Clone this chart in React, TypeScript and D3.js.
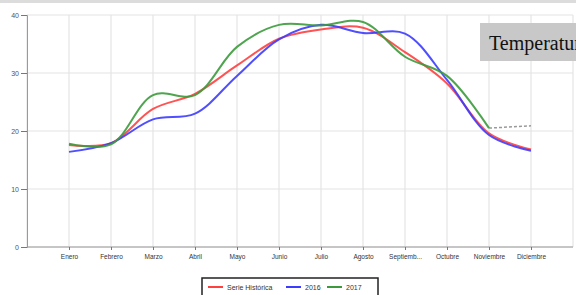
import React, { useEffect, useRef } from 'react'
import * as d3 from 'd3'

const months = ['Enero', 'Febrero', 'Marzo', 'Abril', 'Mayo', 'Junio', 'Julio', 'Agosto', 'Septiembre', 'Octubre', 'Noviembre', 'Diciembre']
const historica = [17.6, 17.9, 23.8, 26.4, 31.3, 35.9, 37.5, 37.8, 33.6, 28.2, 19.6, 16.8]
const serie2016 = [16.4, 17.9, 22.0, 23.0, 29.5, 35.8, 38.3, 36.9, 36.8, 28.8, 19.3, 16.6]
const serie2017 = [17.8, 17.7, 26.2, 26.2, 34.5, 38.3, 38.2, 38.8, 32.8, 29.5, 20.5, null]
const pronostico = [null, null, null, null, null, null, null, null, null, null, 20.5, 20.9]
const yTicks = [0, 10, 20, 30, 40]

const legendItems = [
  { name: 'Serie Histórica', color: '#ff4040' },
  { name: '2016', color: '#3c3cff' },
  { name: '2017', color: '#3c9a3c' }
]

const width = 576
const height = 295

const App: React.FC = () => {
  const svgRef = useRef<SVGSVGElement>(null)

  useEffect(() => {
    if (!svgRef.current) return
    const svg = d3.select(svgRef.current)
    svg.selectAll('*').remove()

    const margin = { top: 15, right: 3, bottom: 48, left: 27 }

    const xScale = d3
      .scalePoint<string>()
      .domain(months)
      .range([margin.left, width - margin.right])
      .padding(1)

    const yScale = d3
      .scaleLinear()
      .domain([0, 40])
      .range([height - margin.bottom, margin.top])

    // top frame line
    svg.append('rect').attr('x', 0).attr('y', 0).attr('width', width).attr('height', 3).attr('fill', '#dcdcdc')

    // grid
    const step = xScale.step()
    const vLines = [margin.left, ...months.map((m) => xScale(m) ?? 0), (xScale(months[11]) ?? 0) + step]
    svg
      .selectAll('.vgrid')
      .data(vLines)
      .enter()
      .append('line')
      .attr('x1', (d) => d)
      .attr('x2', (d) => d)
      .attr('y1', yScale(40))
      .attr('y2', yScale(0))
      .attr('stroke', '#e4e4e4')
      .attr('stroke-width', 1.2)

    svg
      .selectAll('.hgrid')
      .data(yTicks)
      .enter()
      .append('line')
      .attr('x1', margin.left)
      .attr('x2', vLines[vLines.length - 1])
      .attr('y1', (d) => yScale(d))
      .attr('y2', (d) => yScale(d))
      .attr('stroke', '#e4e4e4')
      .attr('stroke-width', 1.2)

    // y axis
    const yAxis = d3.axisLeft(yScale).tickValues(yTicks).tickSize(6).tickPadding(2)
    const gy = svg.append('g').attr('transform', `translate(${margin.left}, 0)`).call(yAxis)
    gy.select('.domain').attr('stroke', '#9a9a9a')
    gy.selectAll('.tick line').attr('stroke', '#777')
    gy.selectAll('.tick text')
      .attr('fill', '#555')
      .style('font-family', 'Liberation Sans, Arial, sans-serif')
      .style('font-size', '7px')

    // x axis
    const xAxis = d3
      .axisBottom(xScale)
      .tickSize(3)
      .tickPadding(4)
      .tickFormat((d) => (d.length > 9 ? d.slice(0, 8) + '...' : d))
    const gx = svg.append('g').attr('transform', `translate(0, ${yScale(0)})`).call(xAxis)
    gx.select('.domain').attr('stroke', '#9a9a9a').attr('d', `M${margin.left},0H${vLines[vLines.length - 1]}`)
    gx.selectAll('.tick line').attr('stroke', '#777')
    gx.selectAll('.tick text')
      .attr('fill', '#333')
      .style('font-family', 'Liberation Sans, Arial, sans-serif')
      .style('font-size', '6.5px')
      .style('font-weight', '500')

    const line = d3
      .line<number | null>()
      .defined((d) => d != null)
      .x((d, i) => xScale(months[i]) ?? 0)
      .y((d) => yScale(d as number))
      .curve(d3.curveCatmullRom.alpha(0.5))

    svg
      .append('path')
      .datum(pronostico)
      .attr('d', line)
      .attr('fill', 'none')
      .attr('stroke', '#999')
      .attr('stroke-width', 1.5)
      .attr('stroke-dasharray', '3,2')

    const series = [
      { values: historica, color: legendItems[0].color },
      { values: serie2016, color: legendItems[1].color },
      { values: serie2017, color: legendItems[2].color }
    ]
    svg
      .selectAll('.series')
      .data(series)
      .enter()
      .append('path')
      .attr('d', (d) => line(d.values))
      .attr('fill', 'none')
      .attr('stroke', (d) => d.color)
      .attr('stroke-width', 2)
      .attr('opacity', 0.9)

    // legend
    const legend = svg.append('g').attr('transform', 'translate(202, 278)')
    legend
      .append('rect')
      .attr('width', 176)
      .attr('height', 22)
      .attr('fill', '#fff')
      .attr('stroke', '#222')
      .attr('stroke-width', 1.5)
    const offsets = [6, 84, 125]
    legendItems.forEach((item, i) => {
      legend
        .append('line')
        .attr('x1', offsets[i])
        .attr('x2', offsets[i] + 15)
        .attr('y1', 9)
        .attr('y2', 9)
        .attr('stroke', item.color)
        .attr('stroke-width', 2)
      legend
        .append('text')
        .attr('x', offsets[i] + 19)
        .attr('y', 11.5)
        .attr('fill', '#333')
        .style('font-family', 'Liberation Sans, Arial, sans-serif')
        .style('font-size', '7px')
        .text(item.name)
    })

    // title box
    svg.append('rect').attr('x', 480).attr('y', 23).attr('width', 100).attr('height', 38).attr('fill', '#c8c8c8')
    svg
      .append('text')
      .attr('x', 489)
      .attr('y', 50)
      .attr('fill', '#111')
      .style('font-family', 'Liberation Serif, Times New Roman, serif')
      .style('font-size', '20px')
      .text('Temperatura')
  }, [])

  return (
    <svg
      ref={svgRef}
      width={width}
      height={height}
      style={{ position: 'absolute', left: 0, top: 0, background: '#fff' }}
    ></svg>
  )
}

export default App
